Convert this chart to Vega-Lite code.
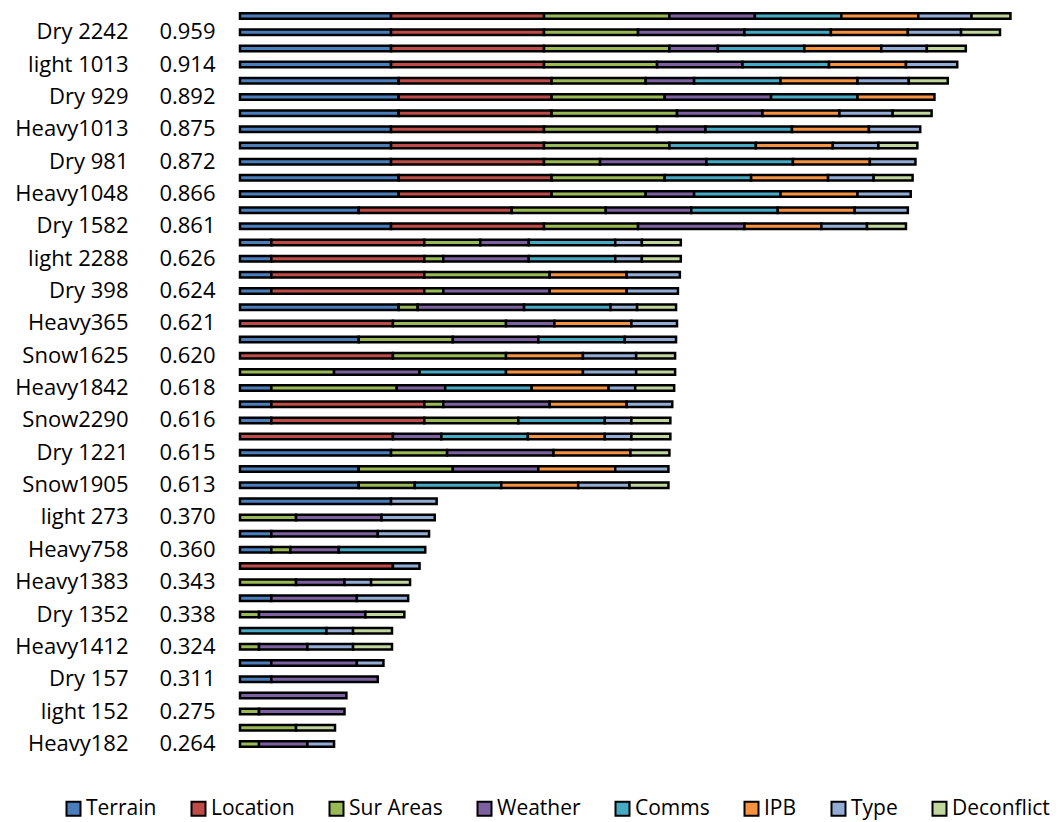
{
  "$schema": "https://vega.github.io/schema/vega-lite/v6.json",
  "width": 800,
  "height": 744,
  "autosize": {"type": "none"},
  "padding": {"left": 240, "top": 8, "right": 22, "bottom": 70},
  "background": "white",
  "config": {"view": {"stroke": null}, "font": "Open Sans"},
  "datasets": {
    "factors": [
      {"factor": "Terrain", "rank": 1},
      {"factor": "Location", "rank": 2},
      {"factor": "Sur Areas", "rank": 3},
      {"factor": "Weather", "rank": 4},
      {"factor": "Comms", "rank": 5},
      {"factor": "IPB", "rank": 6},
      {"factor": "Type", "rank": 7},
      {"factor": "Deconflict", "rank": 8}
    ]
  },
  "data": {
    "values": [
      {"row": "01||", "Terrain": 0.159, "Location": 0.161, "Sur Areas": 0.132, "Weather": 0.090, "Comms": 0.091, "IPB": 0.081, "Type": 0.056, "Deconflict": 0.041},
      {"row": "02|Dry 2242|0.959", "Terrain": 0.159, "Location": 0.161, "Sur Areas": 0.099, "Weather": 0.112, "Comms": 0.091, "IPB": 0.081, "Type": 0.056, "Deconflict": 0.041},
      {"row": "03||", "Terrain": 0.159, "Location": 0.161, "Sur Areas": 0.132, "Weather": 0.051, "Comms": 0.091, "IPB": 0.081, "Type": 0.048, "Deconflict": 0.041},
      {"row": "04|light 1013|0.914", "Terrain": 0.159, "Location": 0.161, "Sur Areas": 0.119, "Weather": 0.090, "Comms": 0.091, "IPB": 0.081, "Type": 0.054},
      {"row": "05||", "Terrain": 0.167, "Location": 0.161, "Sur Areas": 0.099, "Weather": 0.051, "Comms": 0.091, "IPB": 0.081, "Type": 0.054, "Deconflict": 0.041},
      {"row": "06|Dry 929|0.892", "Terrain": 0.167, "Location": 0.161, "Sur Areas": 0.119, "Weather": 0.112, "Comms": 0.091, "IPB": 0.081},
      {"row": "07||", "Terrain": 0.167, "Location": 0.161, "Sur Areas": 0.132, "Weather": 0.090, "IPB": 0.081, "Type": 0.056, "Deconflict": 0.041},
      {"row": "08|Heavy1013|0.875", "Terrain": 0.159, "Location": 0.161, "Sur Areas": 0.119, "Weather": 0.051, "Comms": 0.091, "IPB": 0.081, "Type": 0.054},
      {"row": "09||", "Terrain": 0.159, "Location": 0.161, "Sur Areas": 0.132, "Comms": 0.091, "IPB": 0.081, "Type": 0.048, "Deconflict": 0.041},
      {"row": "10|Dry 981|0.872", "Terrain": 0.159, "Location": 0.161, "Sur Areas": 0.059, "Weather": 0.112, "Comms": 0.091, "IPB": 0.081, "Type": 0.048},
      {"row": "11||", "Terrain": 0.167, "Location": 0.161, "Sur Areas": 0.119, "Comms": 0.091, "IPB": 0.081, "Type": 0.048, "Deconflict": 0.041},
      {"row": "12|Heavy1048|0.866", "Terrain": 0.167, "Location": 0.161, "Sur Areas": 0.099, "Weather": 0.051, "Comms": 0.091, "IPB": 0.081, "Type": 0.056},
      {"row": "13||", "Terrain": 0.125, "Location": 0.161, "Sur Areas": 0.099, "Weather": 0.090, "Comms": 0.091, "IPB": 0.081, "Type": 0.056},
      {"row": "14|Dry 1582|0.861", "Terrain": 0.159, "Location": 0.161, "Sur Areas": 0.099, "Weather": 0.112, "IPB": 0.081, "Type": 0.048, "Deconflict": 0.041},
      {"row": "15||", "Terrain": 0.033, "Location": 0.161, "Sur Areas": 0.059, "Weather": 0.051, "Comms": 0.091, "Type": 0.028, "Deconflict": 0.041},
      {"row": "16|light 2288|0.626", "Terrain": 0.033, "Location": 0.161, "Sur Areas": 0.020, "Weather": 0.090, "Comms": 0.091, "Type": 0.028, "Deconflict": 0.041},
      {"row": "17||", "Terrain": 0.033, "Location": 0.161, "Sur Areas": 0.132, "IPB": 0.081, "Type": 0.056},
      {"row": "18|Dry 398|0.624", "Terrain": 0.033, "Location": 0.161, "Sur Areas": 0.020, "Weather": 0.112, "IPB": 0.081, "Type": 0.054},
      {"row": "19||", "Terrain": 0.167, "Sur Areas": 0.020, "Weather": 0.112, "Comms": 0.091, "Type": 0.028, "Deconflict": 0.041},
      {"row": "20|Heavy365|0.621", "Location": 0.161, "Sur Areas": 0.119, "Weather": 0.051, "IPB": 0.081, "Type": 0.048},
      {"row": "21||", "Terrain": 0.125, "Sur Areas": 0.099, "Weather": 0.090, "Comms": 0.091, "Type": 0.054},
      {"row": "22|Snow1625|0.620", "Location": 0.161, "Sur Areas": 0.119, "IPB": 0.081, "Type": 0.056, "Deconflict": 0.041},
      {"row": "23||", "Sur Areas": 0.099, "Weather": 0.090, "Comms": 0.091, "IPB": 0.081, "Type": 0.056, "Deconflict": 0.041},
      {"row": "24|Heavy1842|0.618", "Terrain": 0.033, "Sur Areas": 0.132, "Weather": 0.051, "Comms": 0.091, "IPB": 0.081, "Type": 0.028, "Deconflict": 0.041},
      {"row": "25||", "Terrain": 0.033, "Location": 0.161, "Sur Areas": 0.020, "Weather": 0.112, "IPB": 0.081, "Type": 0.048},
      {"row": "26|Snow2290|0.616", "Terrain": 0.033, "Location": 0.161, "Sur Areas": 0.099, "Comms": 0.091, "Type": 0.028, "Deconflict": 0.041},
      {"row": "27||", "Location": 0.161, "Weather": 0.051, "Comms": 0.091, "IPB": 0.081, "Type": 0.028, "Deconflict": 0.041},
      {"row": "28|Dry 1221|0.615", "Terrain": 0.159, "Sur Areas": 0.059, "Weather": 0.112, "IPB": 0.081, "Deconflict": 0.041},
      {"row": "29||", "Terrain": 0.125, "Sur Areas": 0.099, "Weather": 0.090, "IPB": 0.081, "Type": 0.056},
      {"row": "30|Snow1905|0.613", "Terrain": 0.125, "Sur Areas": 0.059, "Comms": 0.091, "IPB": 0.081, "Type": 0.054, "Deconflict": 0.041},
      {"row": "31||", "Terrain": 0.159, "Type": 0.048},
      {"row": "32|light 273|0.370", "Sur Areas": 0.059, "Weather": 0.090, "Type": 0.056},
      {"row": "33||", "Terrain": 0.033, "Weather": 0.112, "Type": 0.054},
      {"row": "34|Heavy758|0.360", "Terrain": 0.033, "Sur Areas": 0.020, "Weather": 0.051, "Comms": 0.091},
      {"row": "35||", "Location": 0.161, "Type": 0.028},
      {"row": "36|Heavy1383|0.343", "Sur Areas": 0.059, "Weather": 0.051, "Type": 0.028, "Deconflict": 0.041},
      {"row": "37||", "Terrain": 0.033, "Weather": 0.090, "Type": 0.054},
      {"row": "38|Dry 1352|0.338", "Sur Areas": 0.020, "Weather": 0.112, "Deconflict": 0.041},
      {"row": "39||", "Comms": 0.091, "Type": 0.028, "Deconflict": 0.041},
      {"row": "40|Heavy1412|0.324", "Sur Areas": 0.020, "Weather": 0.051, "Type": 0.048, "Deconflict": 0.041},
      {"row": "41||", "Terrain": 0.033, "Weather": 0.090, "Type": 0.028},
      {"row": "42|Dry 157|0.311", "Terrain": 0.033, "Weather": 0.112},
      {"row": "43||", "Weather": 0.112},
      {"row": "44|light 152|0.275", "Sur Areas": 0.020, "Weather": 0.090},
      {"row": "45||", "Sur Areas": 0.059, "Deconflict": 0.041},
      {"row": "46|Heavy182|0.264", "Sur Areas": 0.020, "Weather": 0.051, "Type": 0.028}
    ]
  },
  "transform": [
    {"fold": ["Terrain", "Location", "Sur Areas", "Weather", "Comms", "IPB", "Type", "Deconflict"], "as": ["factor", "weight"]},
    {"filter": "datum.weight > 0"},
    {"lookup": "factor", "from": {"data": {"name": "factors"}, "key": "factor", "fields": ["rank"]}}
  ],
  "layer": [
    {
      "mark": {"type": "bar", "stroke": "#000000", "strokeWidth": 2.5, "strokeOpacity": 1},
      "encoding": {
        "x": {
          "field": "weight",
          "type": "quantitative",
          "stack": "zero",
          "scale": {"domain": [0, 0.8421], "nice": false, "zero": true},
          "axis": null
        },
        "y": {
          "field": "row",
          "type": "nominal",
          "sort": null,
          "scale": {"paddingInner": 0.66, "paddingOuter": 0.33},
          "axis": {
            "orient": "left",
            "title": null,
            "domain": false,
            "ticks": false,
            "tickSize": 0,
            "labelExpr": "split(datum.value, '|')[1]",
            "labelPadding": 112,
            "labelAlign": "right",
            "labelBaseline": "middle",
            "labelFont": "Open Sans",
            "labelFontSize": 22,
            "labelColor": "#000000",
            "labelOverlap": false,
            "labelLimit": 300
          }
        },
        "order": {"field": "rank", "type": "quantitative"},
        "color": {
          "field": "factor",
          "type": "nominal",
          "sort": ["Terrain", "Location", "Sur Areas", "Weather", "Comms", "IPB", "Type", "Deconflict"],
          "scale": {
            "domain": ["Terrain", "Location", "Sur Areas", "Weather", "Comms", "IPB", "Type", "Deconflict"],
            "range": ["#4A7EBB", "#BE4B48", "#98B954", "#7D60A0", "#46AAC5", "#F69240", "#93ACD5", "#C0D69C"]
          },
          "legend": {
            "orient": "none",
            "legendX": -177,
            "legendY": 790,
            "direction": "horizontal",
            "columns": 8,
            "title": null,
            "symbolType": "square",
            "symbolSize": 196,
            "symbolStrokeColor": "#000000",
            "symbolStrokeWidth": 2,
            "labelFont": "Open Sans",
            "labelFontSize": 21,
            "labelColor": "#000000",
            "labelOffset": 2,
            "columnPadding": 30,
            "labelLimit": 200
          }
        }
      }
    },
    {
      "mark": {"type": "text", "text": ""},
      "encoding": {
        "y": {
          "field": "row",
          "type": "nominal",
          "sort": null,
          "axis": {
            "orient": "left",
            "title": null,
            "domain": false,
            "ticks": false,
            "tickSize": 0,
            "labelExpr": "split(datum.value, '|')[2]",
            "labelPadding": 25,
            "labelAlign": "right",
            "labelBaseline": "middle",
            "labelFont": "Open Sans",
            "labelFontSize": 22,
            "labelColor": "#000000",
            "labelOverlap": false,
            "labelLimit": 300
          }
        }
      }
    }
  ],
  "resolve": {"axis": {"y": "independent"}}
}
